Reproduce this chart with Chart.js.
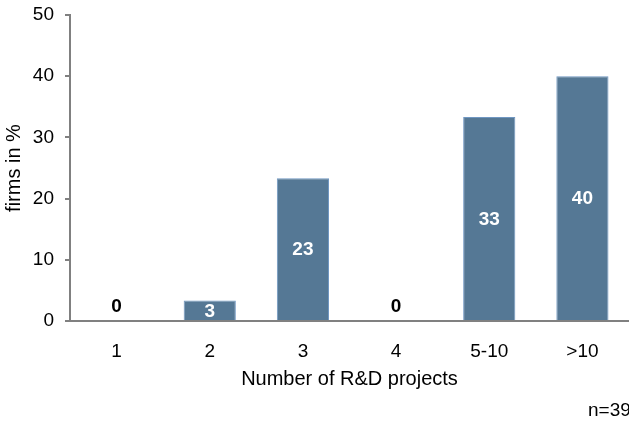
<!DOCTYPE html>
<html>
<head>
<meta charset="utf-8">
<script src="https://cdn.jsdelivr.net/npm/chart.js@4"></script>
<style>
  html, body { margin: 0; padding: 0; background: #ffffff; }
  #wrap { width: 629px; height: 422px; position: relative; }
</style>
</head>
<body>
<div id="wrap"><canvas id="chart" width="629" height="422"></canvas></div>
<script>
// Share of firms by number of R&D projects
const categories = ['1', '2', '3', '4', '5-10', '>10'];
const sharePercent = [0, 3.33, 23.33, 0, 33.33, 40];
const yTicks = [0, 10, 20, 30, 40, 50];
const sampleNote = 'n=39';

const FONT = '"Liberation Sans", Arial, sans-serif';

const barLabels = {
  id: 'barLabels',
  afterDatasetsDraw(chart) {
    const ctx = chart.ctx;
    const meta = chart.getDatasetMeta(0);
    const yScale = chart.scales.y;
    ctx.save();
    ctx.font = 'bold 19px ' + FONT;
    ctx.textAlign = 'center';
    ctx.textBaseline = 'middle';
    meta.data.forEach((bar, i) => {
      const v = sharePercent[i];
      const txt = String(Math.round(v));
      if (v <= 0) {
        ctx.fillStyle = '#000000';
        ctx.fillText(txt, bar.x, yScale.getPixelForValue(0) - 14);
      } else {
        ctx.fillStyle = '#ffffff';
        ctx.fillText(txt, bar.x, (bar.y + bar.base) / 2 + 1);
      }
    });
    ctx.restore();
  },
  afterDraw(chart) {
    const ctx = chart.ctx;
    ctx.save();
    ctx.font = '19px ' + FONT;
    ctx.fillStyle = '#000000';
    ctx.textAlign = 'left';
    ctx.textBaseline = 'middle';
    ctx.fillText(sampleNote, 588, 411);
    ctx.restore();
  }
};

new Chart(document.getElementById('chart'), {
  type: 'bar',
  data: {
    labels: categories,
    datasets: [{
      data: sharePercent,
      backgroundColor: '#557895',
      borderColor: '#7097c2',
      borderWidth: 1,
      barPercentage: 0.56,
      categoryPercentage: 1.0
    }]
  },
  options: {
    responsive: false,
    animation: false,
    events: [],
    layout: { padding: { top: 15, right: 0, left: 0, bottom: 0 } },
    plugins: { legend: { display: false }, tooltip: { enabled: false } },
    scales: {
      x: {
        grid: { display: false, drawTicks: false },
        border: { color: '#808080', width: 2 },
        ticks: {
          color: '#000000',
          padding: 19,
          font: { family: FONT, size: 19 }
        },
        title: {
          display: true,
          text: 'Number of R&D projects',
          color: '#000000',
          padding: { top: 4, bottom: 31 },
          font: { family: FONT, size: 20 }
        },
        afterFit(scale) { scale.height = 101; scale.paddingLeft = 0; scale.paddingRight = 0; }
      },
      y: {
        min: 0,
        max: 50,
        afterBuildTicks(scale) { scale.ticks = yTicks.map(v => ({ value: v })); },
        grid: { display: true, drawOnChartArea: false, drawTicks: true, tickLength: 5, color: '#808080', lineWidth: 2 },
        border: { color: '#808080', width: 2 },
        ticks: {
          color: '#000000',
          padding: 11,
          font: { family: FONT, size: 19 }
        },
        title: {
          display: true,
          text: 'firms in %',
          color: '#000000',
          padding: { top: 2, bottom: 4 },
          font: { family: FONT, size: 20 }
        },
        afterFit(scale) { scale.width = 70; scale.paddingTop = 0; scale.paddingBottom = 0; }
      }
    }
  },
  plugins: [barLabels]
});
</script>
</body>
</html>
